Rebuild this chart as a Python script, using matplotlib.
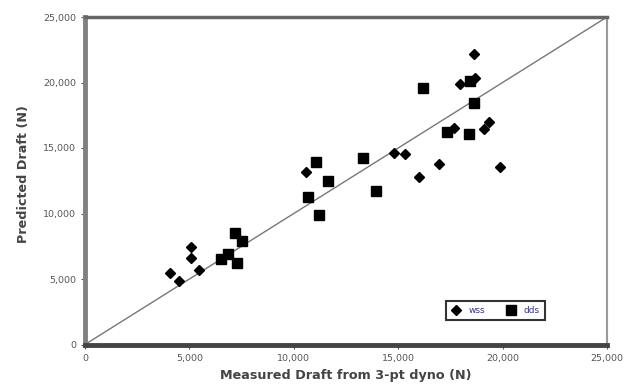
import matplotlib
matplotlib.use('Agg')
import matplotlib.pyplot as plt
import numpy as np

# wss (diamonds)
wss_x = [4070, 4520, 5100, 5070, 5450, 10590, 14810, 15340, 15980, 16970,
         18610, 17940, 18700, 17660, 19330, 19090, 19860]
wss_y = [5460, 4850, 7440, 6630, 5720, 13190, 14590, 14540, 12760, 13780,
         22190, 19910, 20370, 16560, 17020, 16440, 13570]

# dds (squares)
dds_x = [6520, 6860, 7290, 7160, 7540, 11070, 11660, 10660, 11220, 13310,
         13950, 16190, 18460, 18610, 17340, 18370]
dds_y = [6500, 6880, 6200, 8500, 7890, 13900, 12510, 11290, 9850, 14200,
         11750, 19560, 20110, 18460, 16250, 16060]

ticks = [0, 5000, 10000, 15000, 20000, 25000]
tick_labels = ['0', '5,000', '10,000', '15,000', '20,000', '25,000']

fig = plt.figure(figsize=(6.24, 3.88), dpi=100)
ax = fig.add_axes([85 / 624, 43.5 / 388, 522 / 624, 327.5 / 388])

ax.plot([0, 25000], [0, 25000], color='#777777', lw=1.0, zorder=1)
ax.plot(wss_x, wss_y, 'D', color='black', ms=5.5, ls='none', label='wss', zorder=3)
ax.plot(dds_x, dds_y, 's', color='black', ms=7.5, ls='none', label='dds', zorder=3)

ax.set_xlim(0, 25000)
ax.set_ylim(0, 25000)
ax.set_xticks(ticks)
ax.set_yticks(ticks)
ax.set_xticklabels(tick_labels)
ax.set_yticklabels(tick_labels)
ax.tick_params(axis='both', labelsize=6.8, colors='#555555', length=3, width=0.8,
               labelcolor='#555555')

ax.spines['left'].set_linewidth(3.5)
ax.spines['left'].set_color('#808080')
ax.spines['bottom'].set_linewidth(3.5)
ax.spines['bottom'].set_color('#444444')
ax.spines['top'].set_linewidth(2.5)
ax.spines['top'].set_color('#666666')
ax.spines['right'].set_linewidth(1.5)
ax.spines['right'].set_color('#999999')

ax.set_xlabel('Measured Draft from 3-pt dyno (N)', fontsize=9.2, fontweight='bold',
              color='#444444', labelpad=5)
ax.set_ylabel('Predicted Draft (N)', fontsize=9.2, fontweight='bold',
              color='#444444')
ax.yaxis.set_label_coords(-0.105, 0.52)

leg = ax.legend(loc='lower right', bbox_to_anchor=(0.89, 0.06), ncol=2,
                fontsize=6.5, frameon=True, fancybox=False, handlelength=1.2,
                handletextpad=0.8, columnspacing=2.2, borderpad=0.6,
                markerscale=0.9)
leg.get_frame().set_edgecolor('black')
leg.get_frame().set_linewidth(1.5)
for t in leg.get_texts():
    t.set_color('#333399')

fig.savefig('out.png', dpi=100)
